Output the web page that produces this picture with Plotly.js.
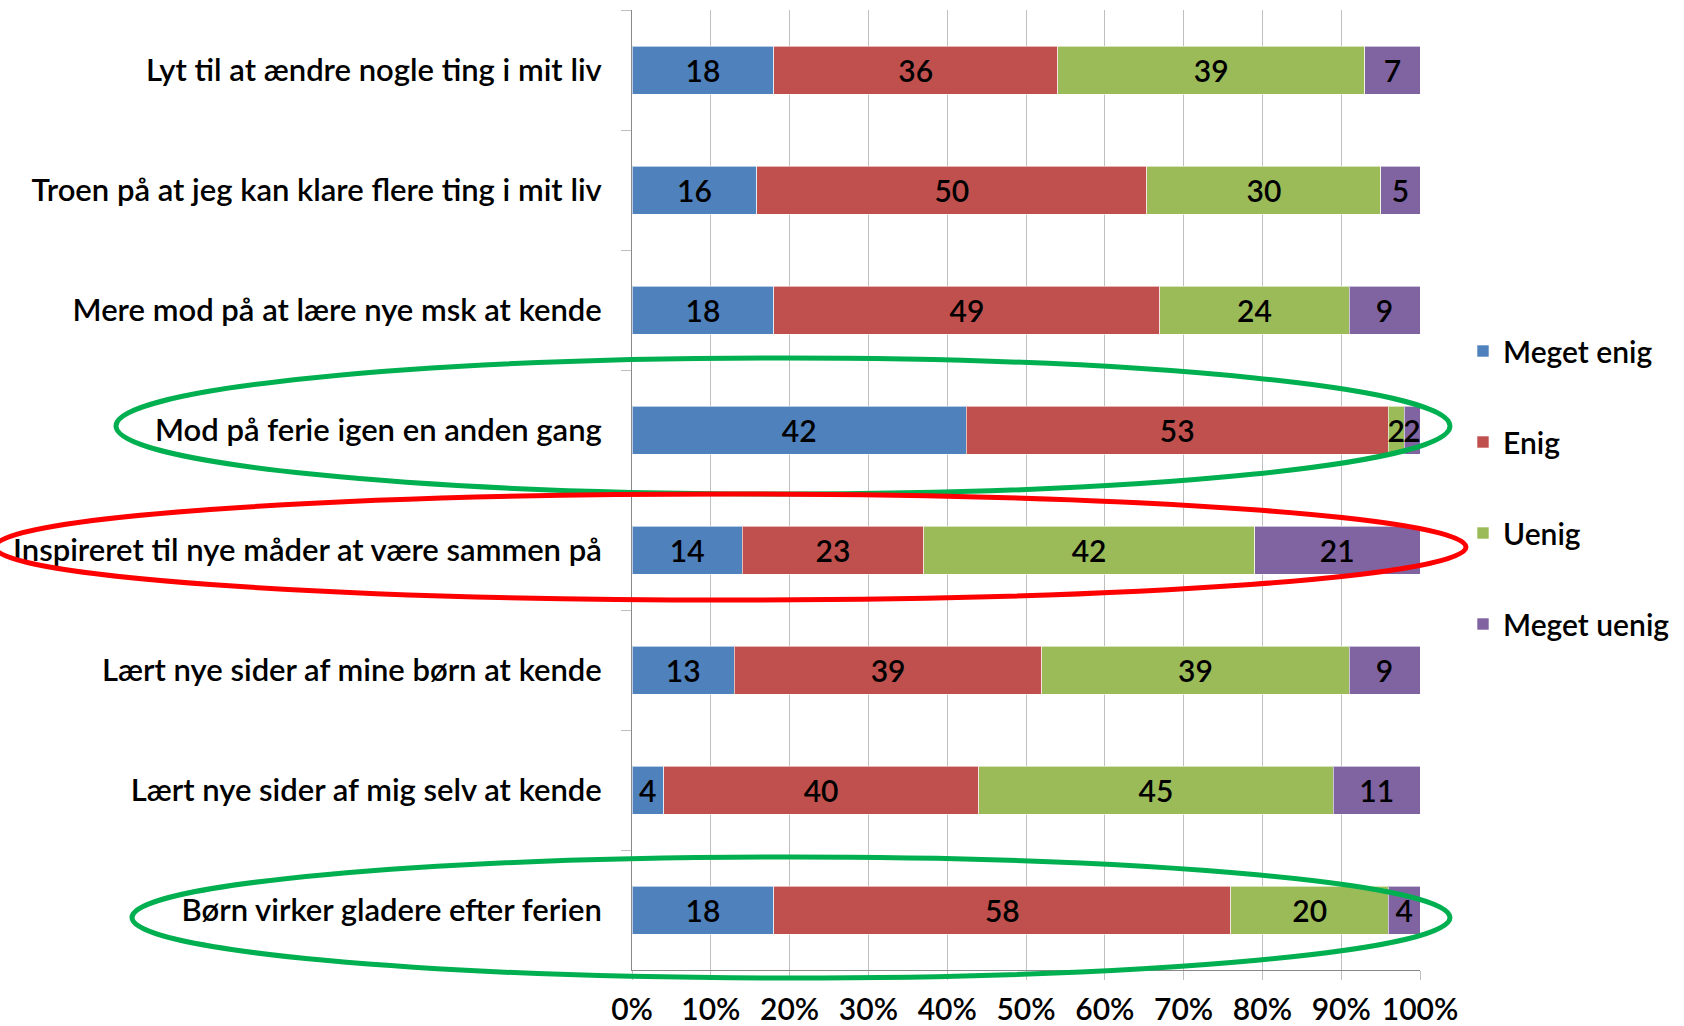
<!DOCTYPE html>
<html>
<head>
<meta charset="utf-8">
<script src="https://cdn.plot.ly/plotly-3.0.1.min.js"></script>
<style>
html,body{margin:0;padding:0;background:#fff;}
#chart{width:1684px;height:1026px;}
</style>
</head>
<body>
<div id="chart"></div>
<script>
// Categories (top to bottom)
const categories = [
  "Lyt til at ændre nogle ting i mit liv",
  "Troen på at jeg kan klare flere ting i mit liv",
  "Mere mod på at lære nye msk at kende",
  "Mod på ferie igen en anden gang",
  "Inspireret til nye måder at være sammen på",
  "Lært nye sider af mine børn at kende",
  "Lært nye sider af mig selv at kende",
  "Børn virker gladere efter ferien"
];
// Series values (shown as labels; bars normalised to 100%)
const megetEnig  = [18, 16, 18, 42, 14, 13, 4, 18];
const enig       = [36, 50, 49, 53, 23, 39, 40, 58];
const uenig      = [39, 30, 24, 2, 42, 39, 45, 20];
const megetUenig = [7, 5, 9, 2, 21, 9, 11, 4];
const seriesNames = ["Meget enig", "Enig", "Uenig", "Meget uenig"];
const xTickValues = [0, 10, 20, 30, 40, 50, 60, 70, 80, 90, 100];

const colors = ["#4F81BD", "#C0504D", "#9BBB59", "#8064A2"];
const FONT = "Lato, 'Open Sans', sans-serif";
const FS = 30;
const FW = 600;
const allSeries = [megetEnig, enig, uenig, megetUenig];

const traces = allSeries.map((vals, i) => ({
  type: "bar",
  orientation: "h",
  name: seriesNames[i],
  legendgroup: "g" + i,
  y: categories,
  x: vals,
  text: vals.map(String),
  texttemplate: "%{text}",
  textposition: "inside",
  insidetextanchor: "middle",
  textangle: 0,
  constraintext: "none",
  textfont: {family: FONT, size: FS, color: "#000", weight: FW},
  marker: {color: colors[i], line: {color: "rgba(255,255,255,0.6)", width: 1}},
  hoverinfo: "skip"
}));

const L = 632, R = 1420, T = 10, B = 970;
function px(x){ return (x - L) / (R - L); }
function py(y){ return (B - y) / (B - T); }

const layout = {
  width: 1684,
  height: 1026,
  margin: {l: L, r: 1684 - R, t: T, b: 1026 - B, pad: 0, autoexpand: false},
  paper_bgcolor: "#fff",
  plot_bgcolor: "#fff",
  barmode: "stack",
  barnorm: "percent",
  bargap: 0.6,
  font: {family: FONT, size: FS, color: "#000", weight: FW},
  showlegend: true,
  legend: {
    x: px(1463), xanchor: "left",
    y: py(325), yanchor: "top",
    traceorder: "grouped",
    tracegroupgap: 49,
    font: {family: FONT, size: FS, color: "#000", weight: FW},
    itemwidth: 30,
    bgcolor: "rgba(0,0,0,0)"
  },
  xaxis: {
    range: [0, 100],
    tickvals: xTickValues,
    ticktext: xTickValues.map(v => v + "%"),
    showgrid: true,
    gridcolor: "#BFBFBF",
    gridwidth: 1,
    zeroline: false,
    showline: true,
    linecolor: "#888888",
    linewidth: 1,
    ticks: "outside",
    ticklen: 9,
    tickcolor: "#BFBFBF",
    ticklabelstandoff: 4,
    tickfont: {family: FONT, size: FS, color: "#000", weight: FW},
    fixedrange: true
  },
  yaxis: {
    autorange: "reversed",
    type: "category",
    showgrid: false,
    zeroline: false,
    showline: true,
    linecolor: "#888888",
    linewidth: 1,
    ticks: "outside",
    tickson: "boundaries",
    ticklen: 10,
    tickcolor: "#BFBFBF",
    ticklabelstandoff: 23,
    tickfont: {family: FONT, size: 31, color: "#000", weight: FW},
    fixedrange: true
  },
  shapes: [
    {type: "circle", xref: "paper", yref: "paper",
     x0: px(116), x1: px(1450), y0: py(494), y1: py(358),
     line: {color: "#00B050", width: 5}},
    {type: "circle", xref: "paper", yref: "paper",
     x0: px(-5), x1: px(1466), y0: py(600), y1: py(494),
     line: {color: "#FF0000", width: 5}},
    {type: "circle", xref: "paper", yref: "paper",
     x0: px(132), x1: px(1450), y0: py(978), y1: py(857),
     line: {color: "#00B050", width: 5}}
  ]
};

Plotly.newPlot("chart", traces, layout, {displayModeBar: false, staticPlot: true});
</script>
</body>
</html>
